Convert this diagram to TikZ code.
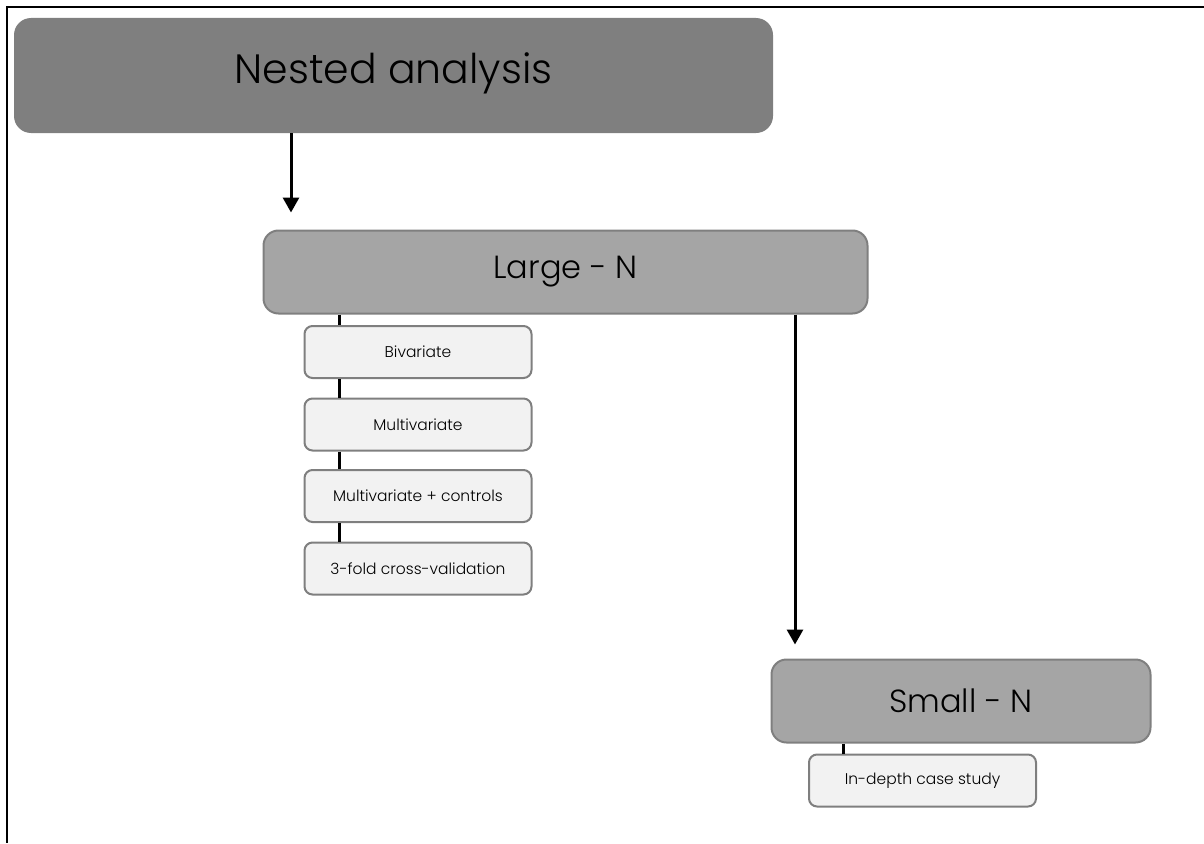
\documentclass[tikz,border=0pt]{standalone}
\usepackage{fontspec}
\setmainfont{Poppins}[UprightFont=* Light]
\usetikzlibrary{arrows.meta}
\definecolor{darkfill}{HTML}{7F7F7F}
\definecolor{midfill}{HTML}{A5A5A5}
\definecolor{lightfill}{HTML}{F2F2F2}
\definecolor{edgegray}{HTML}{7F7F7F}
\begin{document}
\begin{tikzpicture}[x=1pt,y=-1pt,
  headbox/.style={rectangle, rounded corners=17pt, fill=darkfill, draw=none,
    inner sep=0pt, minimum width=759pt, minimum height=115pt, text depth=15pt,
    font=\fontsize{41}{48}\selectfont},
  levelbox/.style={rectangle, rounded corners=15pt, fill=midfill, draw=edgegray,
    line width=2pt, inner sep=0pt, minimum height=83pt,
    font=\fontsize{32}{38}\selectfont},
  itembox/.style={rectangle, rounded corners=8pt, fill=lightfill, draw=edgegray,
    line width=2pt, inner sep=0pt, minimum width=227pt, minimum height=52pt,
    font=\fontsize{15.5}{18}\selectfont},
  flow/.style={line width=3pt, -{Triangle[length=15pt,width=16pt]}},
  link/.style={line width=3pt}
]
\useasboundingbox (0,0) rectangle (1204,843);

% frame along the top and left edges
\draw[line width=2pt] (1204,7) -- (7,7) -- (7,843);

% main levels
\node[headbox] (nested) at (393.5,75.5) {Nested analysis};
\node[levelbox, minimum width=604pt] (large) at (565.5,272) {Large - N};
\node[levelbox, minimum width=379pt] (small) at (961,701) {Small - N};

% methods under the large-N level
\node[itembox] (biv)  at (418,352)   {Bivariate};
\node[itembox] (mult) at (418,424.5) {Multivariate};
\node[itembox] (ctrl) at (418,496)   {Multivariate + controls};
\node[itembox] (cv)   at (418,568.5) {3-fold cross-validation};

% method under the small-N level
\node[itembox] (case) at (922.5,780.5) {In-depth case study};

% x positions of the vertical links
\coordinate (ax1) at (291,0);
\coordinate (ax2) at (795,0);
\coordinate (lx1) at (339,0);
\coordinate (lx2) at (843,0);

% arrows between levels
\draw[flow, shorten >=17pt] (nested.south -| ax1) -- (large.north -| ax1);
\draw[flow, shorten >=14pt] (large.south -| ax2) -- (small.north -| ax2);

% links between stacked boxes
\draw[link] (large.south -| lx1) -- (biv.north -| lx1);
\draw[link] (biv.south -| lx1) -- (mult.north -| lx1);
\draw[link] (mult.south -| lx1) -- (ctrl.north -| lx1);
\draw[link] (ctrl.south -| lx1) -- (cv.north -| lx1);
\draw[link] (small.south -| lx2) -- (case.north -| lx2);
\end{tikzpicture}
\end{document}
